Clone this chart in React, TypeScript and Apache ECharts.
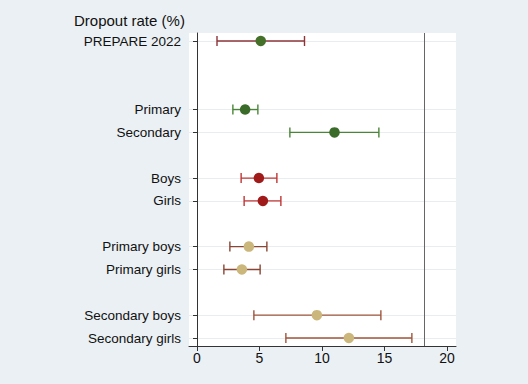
import React, { useEffect, useRef } from "react";
import * as echarts from "echarts";

const categories = [
  "PREPARE 2022", "_g1", "_g2", "Primary", "Secondary", "_g3", "Boys", "Girls",
  "_g4", "Primary boys", "Primary girls", "_g5", "Secondary boys", "Secondary girls",
];
const rowNames = [
  "PREPARE 2022", "Primary", "Secondary", "Boys", "Girls",
  "Primary boys", "Primary girls", "Secondary boys", "Secondary girls",
];
const estimates = [5.1, 3.85, 11.0, 4.95, 5.27, 4.15, 3.59, 9.59, 12.15];
const lowerCI = [1.6, 2.87, 7.43, 3.53, 3.77, 2.63, 2.15, 4.55, 7.11];
const upperCI = [8.6, 4.87, 14.55, 6.39, 6.71, 5.59, 5.05, 14.71, 17.19];
const barColors = ["#8e3438", "#4a8538", "#4a8538", "#c23434", "#c23434", "#8a4634", "#8a4634", "#a0553a", "#a0553a"];
const dotColors = ["#44702a", "#3b6b28", "#3b6b28", "#a01a1a", "#a01a1a", "#cbb67c", "#cbb67c", "#cbb67c", "#cbb67c"];
const xTicks = [0, 5, 10, 15, 20];
const referenceLine = 18.2;
const xMin = -0.64;
const xMax = 20.72;

const isLabeled = (i: number) => !categories[i].startsWith("_g");

export default function App() {
  const ref = useRef<HTMLDivElement>(null);
  useEffect(() => {
    if (!ref.current) return;
    const chart = echarts.init(ref.current, null, { renderer: "svg" });
    const font = "Arial, 'Liberation Sans', sans-serif";
    const barData = rowNames.map((n, i) => ({
      value: [lowerCI[i], upperCI[i], categories.indexOf(n)],
      itemStyle: { color: barColors[i] },
    }));
    const dotData = rowNames.map((n, i) => ({
      value: [estimates[i], categories.indexOf(n)],
      itemStyle: { color: dotColors[i], opacity: 1 },
    }));
    chart.setOption({
      animation: false,
      backgroundColor: "#eaf0f3",
      textStyle: { fontFamily: font },
      title: {
        text: "Dropout rate (%)",
        left: 74,
        top: 13,
        padding: 0,
        textStyle: { fontFamily: font, fontSize: 15, fontWeight: "normal", color: "#111" },
      },
      grid: [
        { left: 189, right: 72, top: 33, bottom: 38, show: true, backgroundColor: "#ffffff", borderWidth: 0 },
        { left: 189, right: 72, top: 41, bottom: 46, show: false },
      ],
      xAxis: [
        {
          gridIndex: 0, type: "value", min: xMin, max: xMax,
          axisLine: { show: true, lineStyle: { color: "#333", width: 1 } },
          axisTick: { show: true, length: 5, customValues: xTicks, lineStyle: { color: "#333" } },
          axisLabel: { customValues: xTicks, fontSize: 14, color: "#111", fontFamily: font, margin: 5 },
          splitLine: { show: false },
        },
        {
          gridIndex: 1, type: "value", min: xMin, max: xMax, show: false,
          splitLine: { show: false },
        },
      ],
      yAxis: [
        {
          gridIndex: 0, type: "value", min: 0, max: 1,
          axisLine: { show: true, lineStyle: { color: "#333", width: 1 } },
          axisTick: { show: false }, axisLabel: { show: false }, splitLine: { show: false },
        },
        {
          gridIndex: 1, type: "category", data: categories, inverse: true, boundaryGap: false,
          axisLine: { show: false },
          axisTick: { show: true, length: 4, interval: (i: number) => isLabeled(i), lineStyle: { color: "#333" } },
          axisLabel: {
            interval: (i: number) => isLabeled(i),
            fontSize: 13.5, color: "#111", fontFamily: font, margin: 8,
          },
          splitLine: { show: true, interval: (i: number) => isLabeled(i), lineStyle: { color: "#e8edf0", width: 1 } },
        },
      ],
      series: [
        {
          type: "line", xAxisIndex: 0, yAxisIndex: 0,
          data: [[referenceLine, 0], [referenceLine, 1]],
          showSymbol: false, symbol: "none",
          lineStyle: { color: "#666", width: 1 },
          silent: true,
        },
        {
          type: "custom", xAxisIndex: 1, yAxisIndex: 1,
          data: barData,
          renderItem: (params: any, api: any) => {
            const lo = api.coord([api.value(0), api.value(2)]);
            const hi = api.coord([api.value(1), api.value(2)]);
            const color = api.visual("color");
            const h = 5;
            const style = { stroke: color, lineWidth: 1.4, fill: "none" };
            return {
              type: "group",
              children: [
                { type: "line", shape: { x1: lo[0], y1: lo[1], x2: hi[0], y2: hi[1] }, style },
                { type: "line", shape: { x1: lo[0], y1: lo[1] - h, x2: lo[0], y2: lo[1] + h }, style },
                { type: "line", shape: { x1: hi[0], y1: hi[1] - h, x2: hi[0], y2: hi[1] + h }, style },
              ],
            };
          },
        },
        {
          type: "scatter", xAxisIndex: 1, yAxisIndex: 1,
          data: dotData, symbolSize: 10.5,
          itemStyle: { opacity: 1 },
        },
      ],
    });
    return () => chart.dispose();
  }, []);
  return (
    <div
      ref={ref}
      style={{ position: "fixed", left: 0, top: 0, width: 528, height: 384 }}
    />
  );
}
